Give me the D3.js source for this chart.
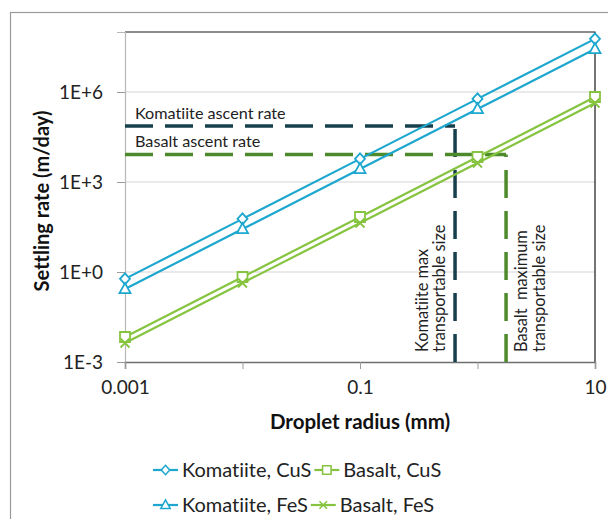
<!DOCTYPE html>
<html>
<head>
<meta charset="utf-8">
<script src="https://cdn.jsdelivr.net/npm/d3@7"></script>
<style>
  html, body { margin: 0; padding: 0; background: #fff; }
  svg { display: block; font-family: Lato, "Open Sans", sans-serif; font-variant-ligatures: none; }
</style>
</head>
<body>
<svg id="chart" width="608" height="519"></svg>
<script>
// Droplet radius (mm) at which settling rates were computed
const radii = [0.001, 0.01, 0.1, 1, 10];

// Settling rate (m/day) for each sulfide / magma pair
const komatiiteCuS = [0.59, 59, 5900, 590000, 59000000];
const komatiiteFeS = [0.27, 27, 2700, 270000, 27000000];
const basaltCuS    = [0.0068, 0.68, 68, 6800, 680000];
const basaltFeS    = [0.0043, 0.43, 43, 4300, 430000];

// Magma ascent rates (m/day) and the largest droplet each can carry (mm)
const ascentRates      = [74000, 8300];
const maxTransportable = [0.644, 1.75];
const ascentLabels     = ["Komatiite ascent rate", "Basalt ascent rate"];
const sizeLabels       = [["Komatiite max", "transportable size"],
                          ["Basalt  maximum", "transportable size"]];

// Axis ticks
const xTicks = [0.001, 0.01, 0.1, 1, 10];
const xTickLabels = ["0.001", "", "0.1", "", "10"];
const yTicks = [1e-3, 1, 1e3, 1e6];
const yTickLabels = ["1E-3", "1E+0", "1E+3", "1E+6"];

const seriesNames = ["Komatiite, CuS", "Komatiite, FeS", "Basalt, CuS", "Basalt, FeS"];

const cyan = "#1da7cf", lime = "#86c440";
const darkTeal = "#17404d", olive = "#4d8a2c";

const series = [
  { name: seriesNames[0], values: komatiiteCuS, color: cyan, marker: "diamond" },
  { name: seriesNames[1], values: komatiiteFeS, color: cyan, marker: "triangle" },
  { name: seriesNames[2], values: basaltCuS,    color: lime, marker: "square" },
  { name: seriesNames[3], values: basaltFeS,    color: lime, marker: "cross" }
];

const svg = d3.select("#chart");
const plot = { left: 125, right: 595, top: 32, bottom: 362 };

// Outer chart frame
svg.append("rect")
  .attr("x", 10.5).attr("y", 12.5)
  .attr("width", 640).attr("height", 560)
  .attr("fill", "none").attr("stroke", "#9a9a9a").attr("stroke-width", 1.2);

const x = d3.scaleLog().domain([0.001, 10]).range([plot.left, plot.right]);
const y = d3.scaleLog().domain([1e-3, 1e8]).range([plot.bottom, plot.top]);

// Horizontal gridlines
svg.append("g")
  .selectAll("line")
  .data(yTicks.slice(1))
  .join("line")
  .attr("x1", plot.left).attr("x2", plot.right)
  .attr("y1", d => y(d)).attr("y2", d => y(d))
  .attr("stroke", "#d4d4d4").attr("stroke-width", 1);

// Top and right frame of the plot area
svg.append("path")
  .attr("d", `M${plot.left},${plot.top}H${plot.right}V${plot.bottom}`)
  .attr("fill", "none").attr("stroke", "#1a1a1a").attr("stroke-width", 1.2);

// Y axis
const yAxis = d3.axisLeft(y)
  .tickValues(yTicks)
  .tickFormat((d, i) => yTickLabels[i])
  .tickSize(8).tickPadding(14);
const gy = svg.append("g").attr("transform", `translate(${plot.left},0)`).call(yAxis);
gy.select(".domain").attr("stroke", "#b8b8b8").attr("stroke-width", 1.2);
gy.selectAll(".tick line").attr("stroke", "#9a9a9a");
gy.selectAll(".tick text")
  .attr("font-family", "Lato, sans-serif").attr("font-size", 19).attr("fill", "#222");

// X axis
const xAxis = d3.axisBottom(x)
  .tickValues(xTicks)
  .tickFormat((d, i) => xTickLabels[i])
  .tickSize(7).tickPadding(12);
const gx = svg.append("g").attr("transform", `translate(0,${plot.bottom})`).call(xAxis);
gx.select(".domain").attr("stroke", "#6f6f6f").attr("stroke-width", 1.5);
gx.selectAll(".tick line").attr("stroke", "#9a9a9a");
gx.selectAll(".tick text")
  .attr("font-family", "Lato, sans-serif").attr("font-size", 19).attr("fill", "#222");

// Axis titles
svg.append("text")
  .attr("transform", `translate(49,201) rotate(-90)`)
  .attr("text-anchor", "middle")
  .attr("font-size", 20).attr("font-weight", "bold").attr("fill", "#111")
  .text("Settling rate (m/day)");
svg.append("text")
  .attr("x", 360).attr("y", 429)
  .attr("text-anchor", "middle")
  .attr("font-size", 20.5).attr("font-weight", "bold").attr("fill", "#111")
  .text("Droplet radius (mm)");

// Ascent-rate limits: horizontal rate line, vertical size line
const limitColors = [darkTeal, olive];
const limits = svg.append("g");
ascentRates.forEach((rate, i) => {
  limits.append("line")
    .attr("x1", x(0.001)).attr("x2", x(maxTransportable[i]))
    .attr("y1", y(rate)).attr("y2", y(rate))
    .attr("stroke", limitColors[i]).attr("stroke-width", 3.5)
    .attr("stroke-dasharray", "28,12");
  limits.append("line")
    .attr("x1", x(maxTransportable[i])).attr("x2", x(maxTransportable[i]))
    .attr("y1", y(1e-3)).attr("y2", y(rate))
    .attr("stroke", limitColors[i]).attr("stroke-width", 3.5)
    .attr("stroke-dasharray", "28,13");
  limits.append("text")
    .attr("x", 135).attr("y", y(rate) - 7)
    .attr("font-size", 16.2).attr("fill", "#222")
    .text(ascentLabels[i]);
});

// Rotated labels beside the size lines
const sizeLabelX = [[428, 445], [527, 545]];
sizeLabels.forEach((lines, i) => {
  lines.forEach((t, j) => {
    svg.append("text")
      .attr("transform", `translate(${sizeLabelX[i][j]},352) rotate(-90)`)
      .attr("font-size", 16.4).attr("fill", "#222")
      .attr("xml:space", "preserve")
      .style("white-space", "pre")
      .text(t);
  });
});

// Marker shapes
function markerPath(type) {
  switch (type) {
    case "diamond":  return "M0,-5.5L5,0L0,5.5L-5,0Z";
    case "triangle": return "M0,-6L5.5,4L-5.5,4Z";
    case "square":   return "M-5,-5H5V5H-5Z";
    case "cross":    return "M-4.5,-4.5L4.5,4.5M-4.5,4.5L4.5,-4.5";
  }
}

const line = d3.line().x(d => x(d[0])).y(d => y(d[1]));
series.forEach(s => {
  const pts = radii.map((r, i) => [r, s.values[i]]);
  const g = svg.append("g");
  g.append("path")
    .attr("d", line(pts))
    .attr("fill", "none").attr("stroke", s.color).attr("stroke-width", 2.2);
  g.selectAll("path.m")
    .data(pts)
    .join("path")
    .attr("class", "m")
    .attr("transform", d => `translate(${x(d[0])},${y(d[1])})`)
    .attr("d", markerPath(s.marker))
    .attr("fill", s.marker === "cross" ? "none" : "#fff")
    .attr("stroke", s.color).attr("stroke-width", 1.8);
});

// Legend, two rows laid out left to right
const legendRows = [[series[0], series[2]], [series[1], series[3]]];
const legendY = [470, 505];
legendRows.forEach((row, ri) => {
  let cx = 153;
  row.forEach(s => {
    const g = svg.append("g").attr("transform", `translate(${cx},${legendY[ri]})`);
    g.append("line").attr("x1", 0).attr("x2", 25)
      .attr("stroke", s.color).attr("stroke-width", 2.2);
    g.append("path")
      .attr("transform", "translate(12.5,0) scale(0.85)")
      .attr("d", markerPath(s.marker))
      .attr("fill", s.marker === "cross" ? "none" : "#fff")
      .attr("stroke", s.color).attr("stroke-width", 1.8);
    const t = g.append("text")
      .attr("x", 29).attr("y", 7)
      .attr("font-size", 20).attr("fill", "#222")
      .text(s.name);
    cx += 29 + t.node().getComputedTextLength() + 3;
  });
});
</script>
</body>
</html>
